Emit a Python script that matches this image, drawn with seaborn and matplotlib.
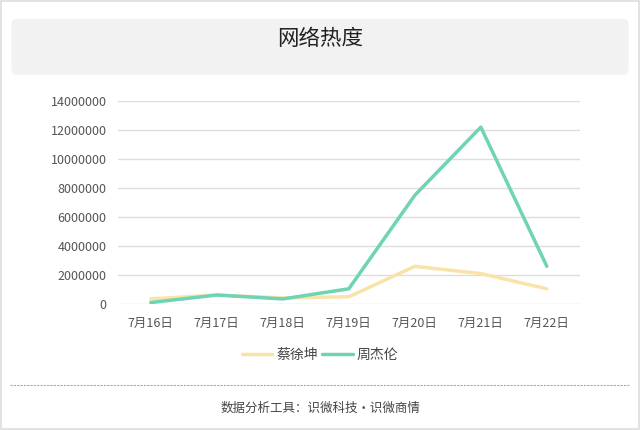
import matplotlib
matplotlib.use("Agg")
import matplotlib.pyplot as plt
from matplotlib.patches import FancyBboxPatch, Rectangle
import seaborn as sns
import pandas as pd

# 数据
dates = ["7月16日", "7月17日", "7月18日", "7月19日", "7月20日", "7月21日", "7月22日"]
cai_xukun = [350000, 620000, 420000, 500000, 2600000, 2100000, 1050000]
zhou_jielun = [100000, 620000, 350000, 1050000, 7500000, 12200000, 2600000]
series_names = ["蔡徐坤", "周杰伦"]
colors = ["#F8E4A8", "#6FD3B6"]

sns.set_theme(style="white")
plt.rcParams["font.family"] = ["Noto Sans CJK SC", "DejaVu Sans"]

df = pd.DataFrame({
    "date": dates * 2,
    "value": cai_xukun + zhou_jielun,
    "name": [series_names[0]] * len(dates) + [series_names[1]] * len(dates),
})
df["pos"] = list(range(len(dates))) * 2

fig = plt.figure(figsize=(6.4, 4.3), dpi=100)
fig.patch.set_facecolor("white")

# 外框
fig.patches.append(Rectangle((0.002, 0.002), 0.996, 0.996, transform=fig.transFigure,
                             fill=False, edgecolor="#DDDDDD", linewidth=1.2))
# 标题框
fig.patches.append(FancyBboxPatch((0.018, 0.826), 0.964, 0.13, transform=fig.transFigure,
                                  boxstyle="round,pad=0,rounding_size=0.01",
                                  facecolor="#F2F2F2", edgecolor="none"))
fig.text(0.5, 0.91, "网络热度", ha="center", va="center", fontsize=15.5, color="#222222")

ax = fig.add_axes([0.184, 0.293, 0.722, 0.472])
sns.lineplot(data=df, x="pos", y="value", hue="name", palette=colors,
             linewidth=2.5, ax=ax, legend=False)

ax.set_xlim(-0.5, len(dates) - 0.5)
ax.set_ylim(0, 14000000)
ax.set_yticks(range(0, 14000001, 2000000))
ax.set_yticklabels([str(v) for v in range(0, 14000001, 2000000)])
ax.set_xticks(range(len(dates)))
ax.set_xticklabels(dates)
ax.tick_params(axis="both", labelsize=9, colors="#555555", length=0)
ax.tick_params(axis="x", pad=9)
ax.tick_params(axis="y", pad=8)
ax.yaxis.grid(True, color="#DDDDDD", linewidth=1)
ax.set_axisbelow(True)
for s in ax.spines.values():
    s.set_visible(False)
ax.set_xlabel("")
ax.set_ylabel("")

# 图例
handles = [plt.Line2D([], [], color=c, linewidth=2.5) for c in colors]
fig.legend(handles, series_names, loc="center", bbox_to_anchor=(0.5, 0.175), ncol=2,
           frameon=False, fontsize=10, handlelength=2.2, handletextpad=0.3,
           columnspacing=0.3, labelcolor="#444444")

# 虚线分隔
fig.add_artist(plt.Line2D([0.015, 0.985], [0.105, 0.105], transform=fig.transFigure,
                          color="#AAAAAA", linewidth=0.8, linestyle=(0, (2, 1))))
fig.text(0.5, 0.05, "数据分析工具：识微科技·识微商情", ha="center", va="center",
         fontsize=9, color="#444444")

fig.savefig("out.png", dpi=100)
